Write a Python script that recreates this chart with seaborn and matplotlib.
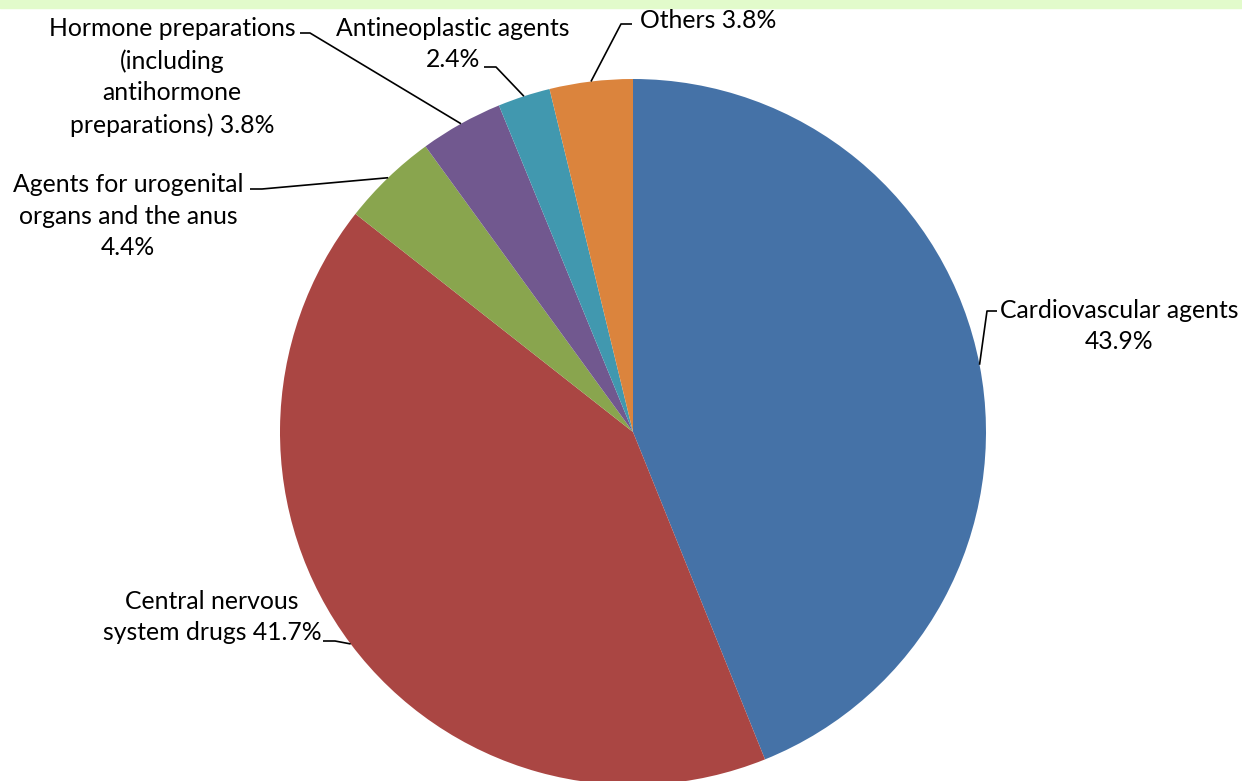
import numpy as np
import matplotlib
matplotlib.use("Agg")
import matplotlib.pyplot as plt
import seaborn as sns

# Data
categories = ["Cardiovascular agents", "Central nervous system drugs",
              "Agents for urogenital organs and the anus",
              "Hormone preparations (including antihormone preparations)",
              "Antineoplastic agents", "Others"]
shares = [43.9, 41.7, 4.4, 3.8, 2.4, 3.8]
label_texts = ["Cardiovascular agents\n43.9%",
               "Central nervous\nsystem drugs 41.7%",
               "Agents for urogenital\norgans and the anus\n4.4%",
               "Hormone preparations\n(including\nantihormone\npreparations) 3.8%",
               "Antineoplastic agents\n2.4%",
               "Others 3.8%"]
colors = ["#4572a7", "#aa4643", "#89a54e", "#71588f", "#4198af", "#db843d"]

sns.set_style("white")
plt.rcParams['font.family'] = ['Lato', 'DejaVu Sans']

W, H = 1242, 781
fig = plt.figure(figsize=(W / 100, H / 100), dpi=100)
ax = fig.add_axes([0, 0, 1, 1])
ax.set_xlim(0, W)
ax.set_ylim(0, H)
ax.axis("off")

# light green band at the top
fig.add_artist(plt.Rectangle((0, 1 - 8 / H), 1, 8 / H, transform=fig.transFigure,
                             color="#e2fbcb", zorder=0))

cx, cy, r = 633, H - 432, 353
wedges, _ = ax.pie(shares, colors=sns.color_palette(colors), startangle=90,
                   counterclock=False, center=(cx, cy), radius=r,
                   wedgeprops=dict(linewidth=0))
ax.set_aspect("equal")
ax.set_xlim(0, W)
ax.set_ylim(0, H)

# label layout (pixel coords, y from top): text anchor, ha, leader path points
layout = [
    dict(xy=(1119, 326), ha="center", path=[(987, 311), (997, 311)]),
    dict(xy=(212, 617), ha="center", path=[(335, 641), (323, 641)]),
    dict(xy=(128, 216), ha="center", path=[(262, 189), (250, 189)]),
    dict(xy=(172, 77), ha="center", path=[(310, 33), (300, 33)]),
    dict(xy=(453, 44), ha="center", path=[(496, 67), (484, 67)]),
    dict(xy=(640, 21), ha="left", path=[(621, 24), (632, 24)]),
]

for w, txt, lay in zip(wedges, label_texts, layout):
    ang = np.deg2rad((w.theta1 + w.theta2) / 2)
    ex, ey = cx + r * np.cos(ang), cy + r * np.sin(ang)
    xs = [ex] + [p[0] for p in lay["path"]]
    ys = [ey] + [H - p[1] for p in lay["path"]]
    ax.plot(xs, ys, color="black", lw=1.2, solid_capstyle="butt")
    ax.text(lay["xy"][0], H - lay["xy"][1], txt, ha=lay["ha"], va="center",
            multialignment="center", fontsize=17.8, linespacing=1.45, color="black")

fig.savefig("out.png", dpi=100)
